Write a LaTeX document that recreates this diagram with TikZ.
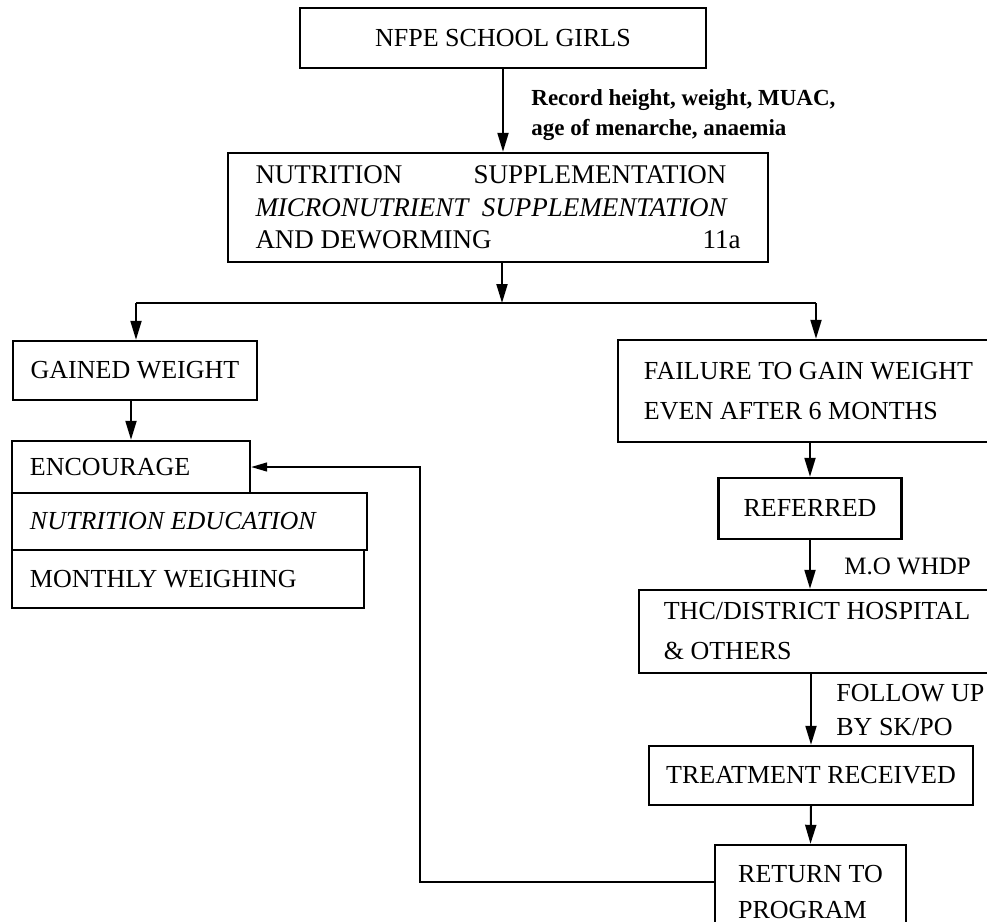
\documentclass[tikz,border=0pt]{standalone}
\usepackage{fontspec}
\setmainfont{Liberation Serif}
\usetikzlibrary{arrows.meta}

\begin{document}
\begin{tikzpicture}[x=0.5pt,y=-0.5pt,
    box/.style={draw,line width=1.2pt,inner sep=0pt,font=\fontsize{13}{20}\selectfont},
    lbox/.style={box,align=flush left},
    arr/.style={line width=1pt,-{Triangle[length=9.5pt,width=5.5pt]}},
    back/.style={line width=0.7pt,-{Triangle[length=8pt,width=4.5pt]}},
    note/.style={anchor=west,inner sep=0pt,align=flush left}]
    \clip (0,0) rectangle (987,922);
    % top of the chart
    \node [box,minimum width=203pt,minimum height=30pt] (girls) at (503,38) {NFPE SCHOOL GIRLS};
    \node [lbox,minimum width=270pt,minimum height=54.5pt,font=\fontsize{13.5}{16.25}\selectfont] (supp) at (498,207.5)
        {\makebox[235.5pt][s]{NUTRITION SUPPLEMENTATION}\\
         \makebox[235.5pt][s]{\itshape MICRONUTRIENT SUPPLEMENTATION}\\
         \makebox[242.5pt][l]{AND DEWORMING\hfill 11a}};
    \node [note,font=\bfseries\fontsize{11.5}{15}\selectfont] (rec) at (531,115) {Record height, weight, MUAC,\\age of menarche, anaemia};
    % left branch
    \node [box,minimum width=122pt,minimum height=29.5pt] (gained) at (135,370.5) {GAINED WEIGHT};
    \node [lbox,text width=101pt,minimum width=119pt,minimum height=26pt] (encourage) at (131,467) {ENCOURAGE};
    \node [lbox,text width=159.5pt,minimum width=177.5pt,minimum height=28.5pt] (educ) at (189.5,521.5) {\itshape NUTRITION EDUCATION};
    \node [lbox,text width=158pt,minimum width=176pt,minimum height=29pt] (weigh) at (188,579) {MONTHLY WEIGHING};
    % right branch
    \node [lbox,minimum width=190.5pt,minimum height=51pt] (failure) at (808.5,391) {FAILURE TO GAIN WEIGHT\\EVEN AFTER 6 MONTHS};
    \node [box,minimum width=91.5pt,minimum height=30.5pt] (referred) at (810,508.5) {REFERRED};
    \node [lbox,minimum width=178pt,minimum height=41.5pt] (thc) at (817,631.5) {THC/DISTRICT HOSPITAL\\\& OTHERS};
    \node [box,minimum width=162pt,minimum height=29.5pt] (treat) at (811,775.5) {TREATMENT RECEIVED};
    \node [lbox,minimum width=95.5pt,minimum height=47.5pt,font=\fontsize{13}{18}\selectfont] (ret) at (810.5,892.5) {RETURN TO\\PROGRAM};
    \node [note,font=\fontsize{12.5}{17}\selectfont] (mo) at (844,566) {M.O WHDP};
    \node [note,font=\fontsize{13}{17}\selectfont] (follow) at (836,710) {FOLLOW UP\\BY SK/PO};

    \coordinate (split) at (502,303);
    \coordinate (splitL) at (136,303);
    \coordinate (splitR) at (816,303);
    \coordinate (loop) at (420,882);

    \draw [arr] (girls.south) -- (girls.south |- supp.north);
    \draw [arr] (supp.south -| split) -- (split);
    \draw [line width=1pt] (splitL) -- (splitR);
    \draw [arr] (splitL) -- (splitL |- gained.north);
    \draw [arr] (splitR) -- (splitR |- failure.north);
    \draw [arr] (gained.south -| encourage) -- (encourage.north);
    \draw [arr] (failure.south -| referred) -- (referred.north);
    \draw [arr] (referred.south) -- (referred.south |- thc.north);
    \draw [arr] (thc.south -| treat) -- (treat.north);
    \draw [arr] (treat.south) -- (ret.north);
    \draw [back] (ret.west |- loop) -- (loop) |- (encourage.east);
\end{tikzpicture}
\end{document}
